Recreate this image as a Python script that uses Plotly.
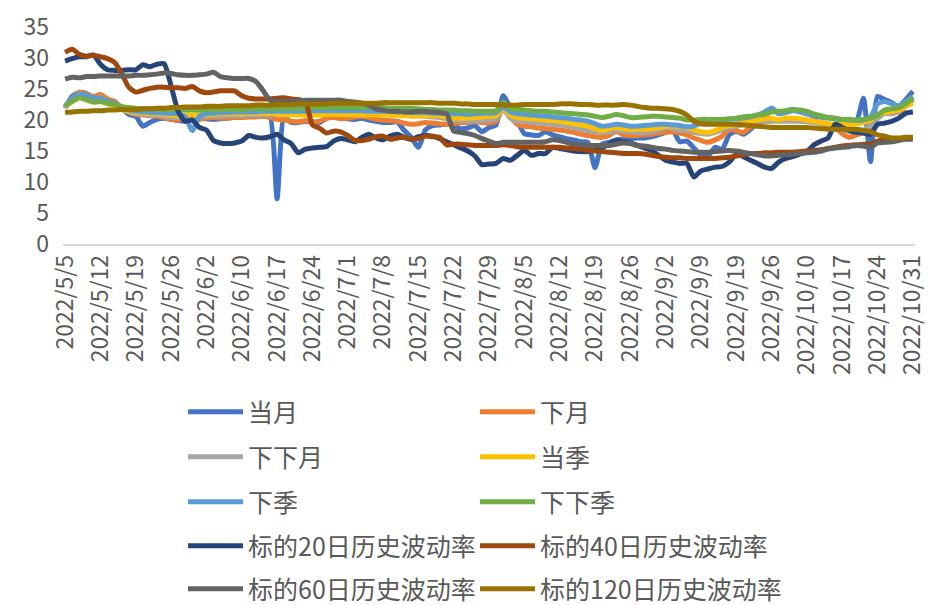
import pandas as pd
import plotly.graph_objects as go

# ---- categories: trading days 2022/5/5 - 2022/10/31 ----
holidays = ["2022-06-03", "2022-09-12", "2022-10-03", "2022-10-04",
            "2022-10-05", "2022-10-06", "2022-10-07"]
days = [d for d in pd.bdate_range("2022-05-05", "2022-10-31")
        if d.strftime("%Y-%m-%d") not in holidays]
dates = [f"{d.year}/{d.month}/{d.day}" for d in days]
tick_dates = dates[::5]

# ---- series values ----
dangyue = [
    21.9, 23.8, 24.4, 24.3, 23.5, 23.3, 23.2, 23.0, 21.9, 20.9,
    20.6, 19.0, 19.6, 20.1, 20.3, 20.1, 19.9, 19.8, 20.1, 20.3,
    20.2, 20.1, 20.2, 20.3, 20.5, 20.6, 20.6, 20.6, 20.6, 20.5,
    7.3, 20.4, 19.6, 19.6, 19.8, 19.7, 19.6, 20.3, 20.5, 20.4,
    20.2, 20.1, 20.3, 20.0, 19.8, 19.6, 19.6, 19.7, 18.3, 17.2,
    15.6, 18.4, 19.1, 19.2, 19.3, 19.1, 18.6, 18.7, 19.1, 18.1,
    18.8, 19.2, 23.9, 22.0, 19.9, 17.8, 17.6, 17.5, 18.1, 17.6,
    17.3, 17.0, 16.8, 16.5, 16.4, 12.3, 16.1, 16.4, 16.8, 16.9,
    17.0, 17.1, 17.1, 17.3, 17.6, 18.0, 18.3, 16.5, 16.6, 15.5,
    14.3, 14.2, 15.6, 15.3, 17.6, 18.2, 17.7, 18.5, 19.6, 20.5,
    21.9, 21.1, 21.4, 21.7, 21.3, 21.0, 20.6, 20.5, 20.4, 20.3,
    19.9, 19.8, 19.8, 23.5, 13.3, 23.8, 23.3, 22.8, 22.2, 23.3, 24.6]

xiayue = [
    22.1, 23.5, 24.5, 24.2, 23.8, 24.1, 23.4, 22.9, 21.9, 21.3,
    20.9, 20.8, 20.7, 20.6, 20.4, 20.1, 20.0, 20.3, 20.2, 20.1,
    20.3, 20.4, 20.3, 20.3, 20.4, 20.4, 20.5, 20.5, 20.6, 20.4,
    20.1, 20.0, 19.8, 19.7, 19.9, 19.6, 19.8, 20.3, 20.4, 20.2,
    20.3, 20.5, 20.6, 20.4, 20.1, 20.0, 19.9, 19.8, 19.5, 19.3,
    19.4, 19.6, 19.5, 19.4, 19.3, 19.4, 19.6, 19.6, 19.7, 19.6,
    19.5, 19.8, 21.8, 20.5, 19.3, 19.0, 18.9, 18.7, 18.6, 18.5,
    18.4, 18.2, 18.0, 17.7, 17.5, 17.3, 17.2, 17.5, 18.2, 17.6,
    17.5, 17.5, 17.6, 17.7, 17.9, 18.0, 18.1, 17.9, 17.6, 17.1,
    16.7, 16.4, 16.8, 17.4, 18.4, 18.3, 18.0, 18.9, 19.4, 19.8,
    19.8, 20.0, 20.1, 20.1, 20.0, 19.9, 19.8, 19.6, 19.3, 18.8,
    17.8, 17.2, 17.6, 18.0, 18.8, 20.6, 21.1, 21.1, 21.3, 22.2, 23.2]

xiaxiayue = [
    22.0, 23.2, 24.0, 23.8, 23.4, 23.6, 23.0, 22.6, 21.8, 21.3,
    21.0, 20.9, 20.8, 20.8, 20.6, 20.4, 20.4, 20.5, 20.6, 20.6,
    20.6, 20.6, 20.6, 20.7, 20.7, 20.7, 20.8, 20.8, 20.8, 20.8,
    20.9, 21.0, 21.0, 21.0, 21.0, 21.0, 21.0, 21.1, 21.1, 21.0,
    21.0, 21.0, 21.1, 21.0, 20.9, 20.9, 20.9, 20.8, 20.8, 20.7,
    20.7, 20.6, 20.5, 20.4, 20.2, 20.0, 19.9, 19.8, 19.8, 19.9,
    20.0, 20.2, 21.8, 20.3, 19.8, 19.8, 19.6, 19.5, 19.4, 19.3,
    19.2, 19.0, 18.8, 18.5, 18.3, 18.1, 18.0, 18.1, 18.4, 18.2,
    18.1, 18.0, 18.0, 18.1, 18.4, 18.8, 18.6, 18.4, 18.3, 18.0,
    17.8, 17.7, 18.0, 18.4, 18.8, 19.0, 19.3, 19.5, 19.6, 19.8,
    19.8, 19.8, 19.8, 19.8, 19.8, 19.7, 19.6, 19.4, 19.2, 19.0,
    18.4, 18.2, 18.0, 18.4, 19.1, 20.2, 21.1, 21.0, 21.4, 22.3, 23.3]

dangji = [
    22.1, 23.0, 23.6, 23.2, 22.9, 23.0, 22.6, 22.3, 21.8, 21.4,
    21.2, 21.1, 21.0, 21.0, 20.9, 20.8, 20.7, 20.8, 20.8, 20.9,
    20.9, 20.9, 21.0, 21.0, 21.0, 21.0, 21.1, 21.1, 21.1, 21.1,
    21.0, 20.8, 20.8, 20.8, 20.8, 20.8, 20.8, 20.9, 20.9, 20.9,
    20.9, 20.8, 20.8, 20.8, 20.8, 20.8, 20.8, 20.8, 20.7, 20.6,
    20.7, 20.7, 20.7, 20.7, 20.5, 20.3, 20.3, 20.3, 20.4, 20.5,
    20.6, 20.7, 21.9, 20.8, 20.4, 20.3, 20.2, 20.1, 20.0, 19.9,
    19.8, 19.6, 19.4, 19.2, 19.0, 18.6, 18.3, 18.6, 18.8, 18.6,
    18.5, 18.5, 18.5, 18.6, 18.8, 19.0, 19.0, 19.0, 18.8, 18.4,
    18.1, 18.0, 18.3, 18.8, 19.1, 19.3, 19.6, 19.8, 20.0, 20.2,
    20.3, 20.0, 20.3, 20.3, 20.2, 20.0, 19.8, 19.6, 19.4, 19.3,
    19.3, 19.3, 19.4, 19.6, 20.0, 20.8, 21.2, 21.4, 21.6, 22.2, 22.7]

xiaji = [
    22.2, 23.5, 24.2, 24.0, 23.6, 23.5, 23.0, 22.6, 22.0, 21.6,
    21.4, 21.3, 21.2, 21.2, 21.1, 21.1, 21.0, 20.5, 18.3, 20.6,
    21.0, 21.1, 21.2, 21.2, 21.3, 21.3, 21.3, 21.3, 21.4, 21.4,
    21.4, 21.4, 21.4, 21.4, 21.4, 21.5, 21.5, 21.5, 21.5, 21.5,
    21.5, 21.5, 21.5, 21.4, 21.4, 21.4, 21.4, 21.3, 21.3, 21.2,
    21.2, 21.2, 21.1, 21.1, 21.1, 21.0, 21.0, 20.9, 21.0, 21.1,
    21.1, 21.2, 22.1, 21.3, 21.0, 20.9, 20.8, 20.7, 20.6, 20.5,
    20.4, 20.3, 20.1, 20.0, 19.8, 19.4, 19.0, 19.1, 19.3, 19.2,
    19.0, 19.0, 19.1, 19.2, 19.3, 19.3, 19.2, 19.1, 18.9, 19.0,
    19.5, 19.7, 19.9, 20.0, 20.1, 20.2, 20.3, 20.5, 20.8, 21.3,
    21.9, 21.0, 21.2, 21.5, 21.4, 21.0, 20.7, 20.5, 20.3, 20.2,
    20.1, 20.0, 19.9, 20.0, 20.5, 22.6, 23.0, 22.6, 22.3, 23.0, 23.8]

xiaxiaji = [
    22.3, 23.0, 23.6, 23.3, 22.9, 23.0, 22.7, 22.5, 22.2, 22.0,
    21.9, 21.8, 21.8, 21.8, 21.7, 21.7, 21.6, 21.6, 21.6, 21.6,
    21.6, 21.6, 21.7, 21.7, 21.7, 21.7, 21.8, 21.8, 21.8, 21.8,
    21.8, 21.9, 21.9, 21.9, 21.9, 22.0, 22.0, 22.0, 22.0, 22.0,
    22.0, 22.0, 22.0, 22.0, 22.0, 22.0, 21.9, 21.9, 21.9, 21.9,
    21.8, 21.7, 21.7, 21.6, 21.6, 21.6, 21.5, 21.5, 21.4, 21.4,
    21.4, 21.5, 22.9, 21.8, 21.7, 21.6, 21.5, 21.4, 21.4, 21.3,
    21.2, 21.1, 21.0, 20.9, 20.8, 20.6, 20.4, 20.6, 20.9, 20.7,
    20.4, 20.4, 20.5, 20.6, 20.6, 20.5, 20.4, 20.3, 20.0, 20.0,
    20.1, 20.1, 20.1, 20.1, 20.2, 20.3, 20.5, 20.6, 20.8, 20.9,
    21.3, 21.4, 21.5, 21.7, 21.6, 21.4, 21.0, 20.7, 20.4, 20.2,
    20.1, 20.1, 20.0, 20.1, 20.3, 20.8, 21.6, 21.8, 22.0, 22.6, 23.6]

hv20 = [
    29.5, 29.9, 30.2, 30.2, 30.5, 29.0, 28.1, 28.0, 28.0, 28.1,
    28.1, 28.9, 28.6, 29.0, 29.1, 25.5, 21.4, 19.8, 20.0, 18.8,
    18.4, 16.7, 16.3, 16.2, 16.3, 16.6, 17.5, 17.2, 17.1, 17.3,
    17.7, 16.8, 16.2, 14.7, 15.3, 15.5, 15.6, 15.7, 16.6, 17.0,
    16.8, 16.5, 17.2, 17.7, 17.1, 16.8, 17.4, 17.7, 17.2, 16.9,
    17.3, 17.5, 17.4, 17.0, 16.5, 16.0, 15.5, 15.0, 14.2, 12.8,
    12.9, 13.0, 13.8, 13.5, 14.3, 15.1, 14.3, 14.6, 14.6, 15.6,
    15.4, 15.2, 15.0, 14.9, 14.9, 15.1, 15.5, 16.1, 16.7, 16.5,
    16.3, 15.9, 15.5, 15.1, 14.3, 13.5, 13.2, 13.0, 13.0, 10.8,
    11.8, 12.1, 12.4, 12.5, 13.2, 14.4, 14.1, 13.5, 13.0, 12.4,
    12.2, 13.2, 13.8, 14.1, 14.5, 14.9, 16.0, 16.6, 17.1, 19.3,
    18.8, 18.3, 18.0, 17.9, 17.7, 19.3, 19.5, 19.8, 20.3, 21.1, 21.3]

hv40 = [
    30.9, 31.4, 30.6, 30.3, 30.4, 30.2, 29.9, 29.3, 27.5, 25.3,
    24.5, 24.8, 25.1, 25.3, 25.3, 25.2, 25.2, 25.1, 25.4, 24.7,
    24.4, 24.5, 24.7, 24.7, 24.7, 23.9, 23.5, 23.4, 23.4, 23.4,
    23.5, 23.6, 23.4, 23.3, 23.0, 19.2, 18.7, 17.9, 18.2, 18.1,
    17.5, 16.7, 16.7, 16.9, 17.3, 17.4, 16.9, 17.1, 17.2, 16.9,
    17.0, 17.4, 17.3, 17.2, 16.0, 16.1, 16.1, 16.0, 15.9, 15.9,
    15.9, 15.9, 16.0, 15.9, 15.7, 15.6, 15.6, 15.6, 15.6, 15.6,
    15.6, 15.5, 15.4, 15.3, 15.1, 15.0, 14.9, 14.8, 14.7, 14.6,
    14.6, 14.6, 14.5, 14.3, 14.1, 14.0, 13.9, 13.9, 13.8, 13.8,
    13.8, 13.8, 13.8, 13.9, 14.0, 14.2, 14.4, 14.6, 14.6, 14.7,
    14.7, 14.8, 14.8, 14.8, 14.9, 15.0, 15.1, 15.2, 15.4, 15.6,
    15.8, 15.9, 16.0, 16.1, 16.1, 16.6, 16.8, 16.9, 16.9, 17.0, 17.1]

hv60 = [
    26.6, 26.9, 26.8, 27.0, 27.0, 27.1, 27.1, 27.1, 27.1, 27.1,
    27.2, 27.2, 27.3, 27.4, 27.6, 27.5, 27.3, 27.2, 27.2, 27.3,
    27.4, 27.7, 27.0, 26.8, 26.7, 26.7, 26.7, 26.2, 24.8, 23.2,
    23.0, 23.0, 23.0, 23.1, 23.2, 23.2, 23.2, 23.2, 23.2, 23.2,
    23.0, 22.9, 22.7, 22.4, 21.8, 21.6, 21.4, 21.4, 21.3, 21.3,
    21.4, 21.4, 21.3, 21.2, 21.0, 18.2, 18.0, 17.8, 17.5, 17.0,
    16.6, 16.2, 16.4, 16.4, 16.4, 16.4, 16.4, 16.4, 16.5, 16.8,
    16.7, 16.4, 16.1, 16.0, 15.9, 15.9, 15.9, 15.9, 16.1, 16.3,
    16.2, 15.9, 15.8, 15.6, 15.4, 15.3, 15.1, 15.0, 14.9, 14.8,
    14.8, 14.8, 14.9, 15.0, 15.1, 15.0, 14.8, 14.6, 14.4, 14.2,
    14.2, 14.3, 14.4, 14.5, 14.6, 14.7, 14.8, 15.0, 15.3, 15.5,
    15.6, 15.7, 15.9, 15.8, 15.6, 16.3, 16.4, 16.5, 16.7, 16.9, 16.9]

hv120 = [
    21.2, 21.3, 21.4, 21.4, 21.5, 21.5, 21.6, 21.6, 21.7, 21.7,
    21.7, 21.8, 21.8, 21.9, 21.9, 22.0, 22.0, 22.1, 22.1, 22.1,
    22.2, 22.2, 22.2, 22.3, 22.3, 22.3, 22.3, 22.4, 22.4, 22.4,
    22.5, 22.5, 22.5, 22.6, 22.6, 22.6, 22.6, 22.6, 22.7, 22.7,
    22.7, 22.7, 22.7, 22.7, 22.7, 22.8, 22.8, 22.8, 22.8, 22.8,
    22.8, 22.8, 22.8, 22.7, 22.7, 22.7, 22.6, 22.6, 22.5, 22.5,
    22.5, 22.5, 22.4, 22.4, 22.4, 22.5, 22.5, 22.5, 22.5, 22.5,
    22.6, 22.6, 22.6, 22.5, 22.5, 22.4, 22.4, 22.4, 22.4, 22.5,
    22.4, 22.2, 22.0, 21.9, 21.9, 21.8, 21.7, 21.4, 20.8, 19.8,
    19.4, 19.3, 19.3, 19.3, 19.3, 19.3, 19.2, 19.1, 19.0, 18.9,
    18.8, 18.8, 18.8, 18.8, 18.8, 18.8, 18.7, 18.6, 18.5, 18.5,
    18.5, 18.5, 18.5, 18.3, 18.1, 17.6, 17.4, 17.1, 17.1, 17.2, 17.2]

series_names = ["当月", "下月", "下下月", "当季", "下季", "下下季",
                "标的20日历史波动率", "标的40日历史波动率",
                "标的60日历史波动率", "标的120日历史波动率"]
series_values = [dangyue, xiayue, xiaxiayue, dangji, xiaji, xiaxiaji,
                 hv20, hv40, hv60, hv120]
colors = ["#4472C4", "#ED7D31", "#A5A5A5", "#FFC000", "#5B9BD5", "#70AD47",
          "#264478", "#9E480E", "#636363", "#997300"]

y_ticks = [0, 5, 10, 15, 20, 25, 30, 35]

FONT = "Noto Sans CJK SC"
TXT = "#595959"

fig = go.Figure()
for k, (name, vals, col) in enumerate(zip(series_names, series_values, colors)):
    fig.add_trace(go.Scatter(
        x=dates, y=vals, name=name, mode="lines",
        line=dict(color=col, width=5, shape="spline", smoothing=0.6),
        legend="legend" if k // 2 == 0 else f"legend{k // 2 + 1}",
        legendwidth=222 if k % 2 == 0 else 320,
    ))

row_y = [412, 457, 502, 546, 589]
legend_common = dict(
    orientation="h", xref="container", yref="container",
    x=183 / 935, xanchor="left", yanchor="middle",
    font=dict(family=FONT, size=25, color=TXT),
    itemwidth=55, entrywidthmode="pixels",
    bgcolor="rgba(0,0,0,0)", traceorder="normal",
)
legends = {}
for r, yy in enumerate(row_y):
    key = "legend" if r == 0 else f"legend{r + 1}"
    legends[key] = dict(legend_common, y=1 - yy / 605)

fig.update_layout(
    width=935, height=605,
    margin=dict(l=63, r=8, t=22, b=361),
    paper_bgcolor="white", plot_bgcolor="white",
    showlegend=True,
    font=dict(family=FONT, color=TXT),
    xaxis=dict(
        type="category", categoryorder="array", categoryarray=dates,
        range=[-0.3, 120.3], tickmode="array", tickvals=tick_dates,
        ticktext=tick_dates, tickangle=-90, showgrid=False,
        showline=True, linecolor="#D9D9D9", linewidth=1.5, ticks="",
        tickfont=dict(family=FONT, size=23, color=TXT), zeroline=False,
    ),
    yaxis=dict(
        range=[0, 35], tickvals=y_ticks, showgrid=False, zeroline=False,
        showline=False, ticks="", ticklabelstandoff=13,
        tickfont=dict(family=FONT, size=23, color=TXT),
    ),
    **legends,
)

fig.write_html("out.html", config={"displayModeBar": False},
               post_script="document.body.style.margin='0';")
